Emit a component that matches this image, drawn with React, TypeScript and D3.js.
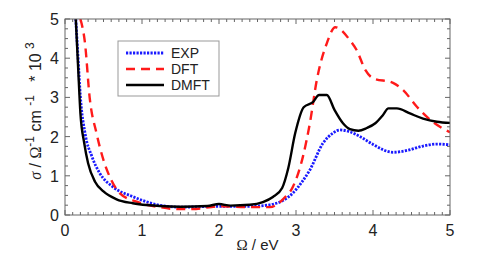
import React from "react";
import * as d3 from "d3";

// energy (eV) / conductivity (10^3 Ohm^-1 cm^-1)
const expX = [0.14, 0.17, 0.2, 0.26, 0.35, 0.45, 0.62, 0.88, 1.2, 1.5, 2.0, 2.4, 2.66, 2.84, 2.96, 3.08, 3.18, 3.35, 3.48, 3.57, 3.7, 3.85, 4.0, 4.26, 4.45, 4.65, 4.83, 5.0];
const expY = [5.0, 4.0, 3.02, 2.09, 1.49, 1.07, 0.72, 0.47, 0.26, 0.2, 0.22, 0.22, 0.26, 0.38, 0.56, 0.85, 1.15, 1.83, 2.09, 2.17, 2.12, 1.98, 1.8, 1.6, 1.65, 1.76, 1.81, 1.79];

const dftX = [0.2, 0.26, 0.32, 0.41, 0.5, 0.58, 0.71, 0.93, 1.23, 1.45, 1.65, 2.0, 2.4, 2.66, 2.84, 2.96, 3.09, 3.18, 3.27, 3.4, 3.51, 3.7, 3.79, 3.9, 4.0, 4.26, 4.39, 4.57, 4.78, 5.0];
const dftY = [5.0, 4.38, 3.0, 2.08, 1.4, 0.98, 0.56, 0.34, 0.2, 0.15, 0.15, 0.22, 0.2, 0.2, 0.42, 0.72, 1.49, 2.34, 3.44, 4.38, 4.79, 4.46, 4.2, 3.7, 3.49, 3.37, 3.19, 2.76, 2.37, 2.11];

const dmftX = [0.14, 0.17, 0.2, 0.25, 0.3, 0.39, 0.5, 0.67, 0.88, 1.23, 1.5, 1.85, 2.0, 2.15, 2.4, 2.57, 2.7, 2.82, 2.9, 2.99, 3.1, 3.22, 3.3, 3.4, 3.5, 3.61, 3.7, 3.81, 3.92, 4.03, 4.13, 4.2, 4.31, 4.48, 4.65, 4.83, 5.0];
const dmftY = [5.0, 3.78, 2.6, 1.83, 1.32, 0.85, 0.6, 0.4, 0.3, 0.23, 0.21, 0.23, 0.28, 0.24, 0.26, 0.33, 0.46, 0.69, 1.2, 2.09, 2.75, 2.88, 3.06, 3.06, 2.68, 2.34, 2.19, 2.15, 2.22, 2.34, 2.55, 2.72, 2.72, 2.59, 2.46, 2.38, 2.35];

const xTicks = [0, 1, 2, 3, 4, 5];
const yTicks = [0, 1, 2, 3, 4, 5];

const seriesNames = ["EXP", "DFT", "DMFT"];
const seriesColors = ["#1a1aff", "#ff1a1a", "#000000"];
const seriesDash = ["2.2 1.3", "9 6", "none"];
const seriesWidth = [2.8, 2.4, 2.4];

export default function App() {
  const width = 498, height = 258;
  const left = 65, right = 450, top = 19, bottom = 215;

  const x = d3.scaleLinear().domain([0, 5]).range([left, right]);
  const y = d3.scaleLinear().domain([0, 5]).range([bottom, top]);

  const line = d3.line<[number, number]>()
    .x((d) => x(d[0]))
    .y((d) => y(d[1]))
    .curve(d3.curveMonotoneX);

  const series = [
    d3.zip(expX, expY) as [number, number][],
    d3.zip(dftX, dftY) as [number, number][],
    d3.zip(dmftX, dmftY) as [number, number][],
  ];

  const xMinor = d3.range(0, 50.5, 1).map((i) => i / 10).filter((v) => !xTicks.includes(v));
  const yMinor = d3.range(0, 20.5, 1).map((i) => i / 4).filter((v) => !yTicks.includes(v));
  const frame = "#666";
  const font = "'Liberation Sans', Arial, sans-serif";
  const serif = "'Liberation Serif', 'DejaVu Serif', serif";

  return (
    <svg width={width} height={height} style={{ position: "absolute", left: 0, top: 0, background: "#fff" }}>
      <defs>
        <clipPath id="plot">
          <rect x={left} y={top} width={right - left} height={bottom - top} />
        </clipPath>
      </defs>
      {/* ticks on all four sides, pointing in */}
      <g stroke={frame} strokeWidth={1}>
        {xTicks.map((v) => (
          <g key={"xt" + v}>
            <line x1={x(v)} x2={x(v)} y1={bottom} y2={bottom - 5} />
            <line x1={x(v)} x2={x(v)} y1={top} y2={top + 5} />
          </g>
        ))}
        {xMinor.map((v) => (
          <g key={"xm" + v}>
            <line x1={x(v)} x2={x(v)} y1={bottom} y2={bottom - 3} />
            <line x1={x(v)} x2={x(v)} y1={top} y2={top + 3} />
          </g>
        ))}
        {yTicks.map((v) => (
          <g key={"yt" + v}>
            <line x1={left} x2={left + 5} y1={y(v)} y2={y(v)} />
            <line x1={right} x2={right - 5} y1={y(v)} y2={y(v)} />
          </g>
        ))}
        {yMinor.map((v) => (
          <g key={"ym" + v}>
            <line x1={left} x2={left + 3} y1={y(v)} y2={y(v)} />
            <line x1={right} x2={right - 3} y1={y(v)} y2={y(v)} />
          </g>
        ))}
      </g>
      <g clipPath="url(#plot)">
        {series.map((s, i) => (
          <path key={i} d={line(s) ?? ""} fill="none" stroke={seriesColors[i]}
            strokeWidth={seriesWidth[i]} strokeDasharray={seriesDash[i]}
            strokeLinejoin="round" />
        ))}
      </g>
      <rect x={left} y={top} width={right - left} height={bottom - top} fill="none" stroke={frame} strokeWidth={1} />
      {/* tick labels */}
      <g fontFamily={font} fontSize={16} fill="#222">
        {xTicks.map((v) => (
          <text key={"xl" + v} x={x(v)} y={bottom + 21} textAnchor="middle">{v}</text>
        ))}
        {yTicks.map((v) => (
          <text key={"yl" + v} x={left - 6} y={y(v) + 6} textAnchor="end">{v}</text>
        ))}
      </g>
      <text x={(left + right) / 2} y={250} textAnchor="middle" fontFamily={font} fontSize={15} fill="#222">
        <tspan fontFamily={serif}>Ω</tspan> / eV
      </text>
      <text transform="translate(41, 111) rotate(-90)" textAnchor="middle"
        fontFamily={font} fontSize={16} fill="#222" xmlSpace="preserve">
        <tspan fontFamily={serif} fontStyle="italic">σ</tspan>
        <tspan> / </tspan>
        <tspan fontFamily={serif}>Ω</tspan>
        <tspan fontSize={12} dy={-7}>-1</tspan>
        <tspan dy={7}> cm </tspan>
        <tspan fontSize={12} dy={-7}>-1</tspan>
        <tspan dy={7}>   * 10 </tspan>
        <tspan fontSize={12} dy={-7}>3</tspan>
      </text>
      {/* legend */}
      <rect x={118} y={41} width={101} height={55} fill="#fff" stroke="#999" strokeWidth={1} />
      {seriesNames.map((name, i) => (
        <g key={name}>
          <line x1={126} x2={164} y1={53 + i * 16} y2={53 + i * 16} stroke={seriesColors[i]}
            strokeWidth={seriesWidth[i]} strokeDasharray={seriesDash[i]} />
          <text x={171} y={58 + i * 16} fontFamily={font} fontSize={14} fill="#222">{name}</text>
        </g>
      ))}
    </svg>
  );
}
